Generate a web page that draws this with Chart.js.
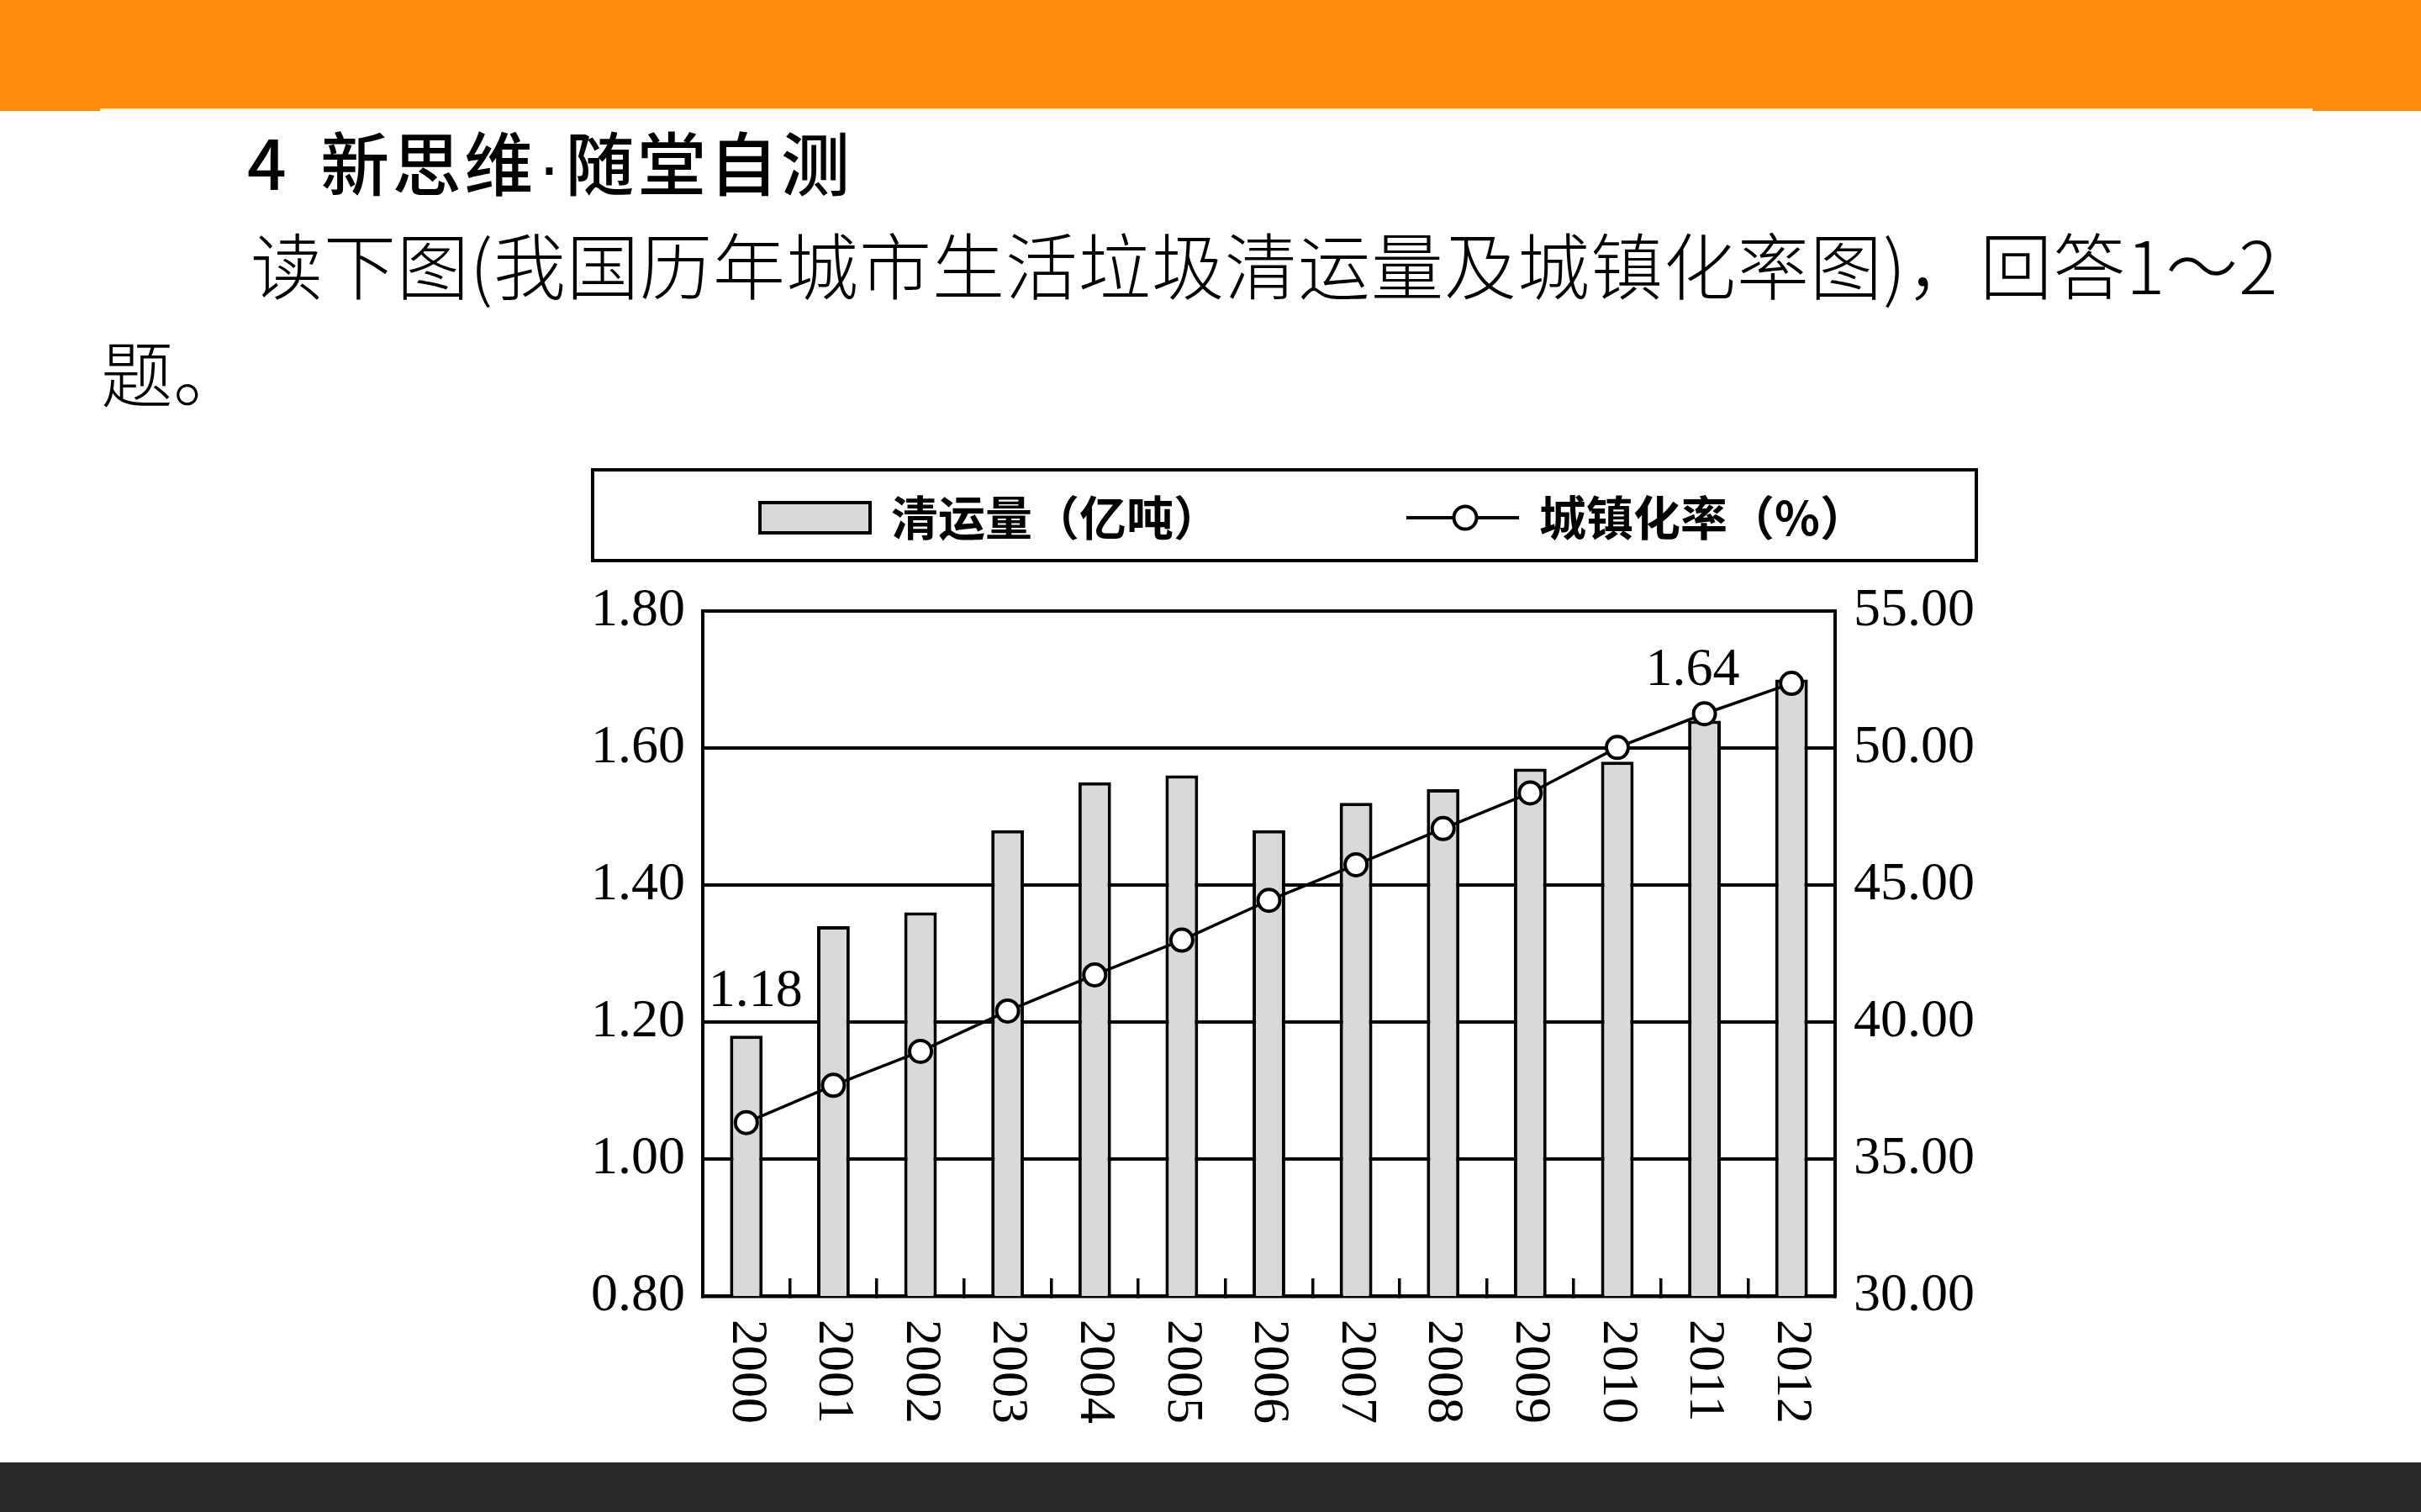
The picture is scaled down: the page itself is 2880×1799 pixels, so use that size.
<!DOCTYPE html>
<html>
<head>
<meta charset="utf-8">
<script src="https://cdn.jsdelivr.net/npm/chart.js@4.4.1/dist/chart.umd.min.js"></script>
<style>
  body { margin: 0; width: 2880px; height: 1799px; position: relative; background: #fff; overflow: hidden; font-family: "Noto Sans CJK SC", sans-serif; }
  #top { position: absolute; left: 0; top: 0; width: 2880px; height: 132px; background: #ff8a0d; }
  #topcut { position: absolute; left: 119px; top: 129px; width: 2632px; height: 4px; background: #fff; }
  #bottom { position: absolute; left: 0; top: 1740px; width: 2880px; height: 59px; background: #282828; }
  .t { position: absolute; white-space: nowrap; line-height: 1; color: #000; }
  .dot { font-family: "Liberation Sans", sans-serif; margin: 0 2px; }
  #chartBox { position: absolute; left: 700px; top: 555px; width: 1660px; height: 1160px; }
</style>
</head>
<body>
<div id="top"></div>
<div id="topcut"></div>
<div class="t" style="left:294px;top:150px;font-size:82px;font-weight:500;letter-spacing:3.5px;"><span style="margin-right:37px">4</span>新思维<span class="dot">·</span>随堂自测</div>
<div class="t" style="left:298px;top:270px;font-size:86px;font-weight:300;letter-spacing:1px;">读下图(我国历年城市生活垃圾清运量及城镇化率图)，回答1～2</div>
<div class="t" style="left:120px;top:398px;font-size:86px;font-weight:300;">题。</div>
<div id="chartBox"><canvas id="grafico" width="1660" height="1160"></canvas></div>
<div id="bottom"></div>

<script>
// datos
const years = ['2000', '2001', '2002', '2003', '2004', '2005', '2006', '2007', '2008', '2009', '2010', '2011', '2012'];
const removal = [1.18, 1.34, 1.36, 1.48, 1.55, 1.56, 1.48, 1.52, 1.54, 1.57, 1.58, 1.64, 1.70];
const urbanRate = [36.33, 37.69, 38.93, 40.40, 41.72, 42.99, 44.44, 45.74, 47.06, 48.36, 50.02, 51.25, 52.36];
const seriesNames = ['清运量（亿吨）', '城镇化率（%）'];
const leftTicks = [0.80, 1.00, 1.20, 1.40, 1.60, 1.80];
const rightTicks = [30, 35, 40, 45, 50, 55];
const labelledYears = ['2000', '2011'];

const SERIF = '"Liberation Serif", "DejaVu Serif", serif';

// leyenda con marco
const framedLegend = {
  id: 'framedLegend',
  afterDraw(chart, args, opts) {
    const ctx = chart.ctx;
    const [bx, by, bw, bh] = opts.box;
    const cy = by + bh / 2 + 3;
    ctx.save();
    ctx.strokeStyle = '#000';
    ctx.lineWidth = 4;
    ctx.strokeRect(bx, by, bw, bh);

    ctx.font = opts.font;
    ctx.textBaseline = 'middle';
    ctx.fillStyle = '#000';

    // barra
    let x = opts.items[0];
    ctx.fillStyle = '#d9d9d9';
    ctx.fillRect(x, cy - 20, 135, 40);
    ctx.lineWidth = 4;
    ctx.strokeRect(x + 2, cy - 18, 131, 36);
    ctx.fillStyle = '#000';
    ctx.fillText(chart.data.datasets[1].label, x + 158, cy);

    // linea
    x = opts.items[1];
    ctx.lineWidth = 4;
    ctx.beginPath();
    ctx.moveTo(x, cy);
    ctx.lineTo(x + 134, cy);
    ctx.stroke();
    ctx.beginPath();
    ctx.arc(x + 70, cy, 13.5, 0, Math.PI * 2);
    ctx.fillStyle = '#fff';
    ctx.fill();
    ctx.stroke();
    ctx.fillStyle = '#000';
    ctx.fillText(chart.data.datasets[0].label, x + 158, cy);
    ctx.restore();
  }
};

// etiquetas del eje x, giradas hacia abajo
const verticalYears = {
  id: 'verticalYears',
  afterDraw(chart, args, opts) {
    const ctx = chart.ctx;
    const xs = chart.scales.x;
    ctx.save();
    ctx.font = opts.font;
    ctx.fillStyle = '#000';
    ctx.textAlign = 'left';
    ctx.textBaseline = 'middle';
    chart.data.labels.forEach(function (lab, i) {
      ctx.save();
      ctx.translate(xs.getPixelForValue(i), chart.chartArea.bottom + opts.gap);
      ctx.rotate(Math.PI / 2);
      ctx.fillText(lab, 0, 0);
      ctx.restore();
    });
    ctx.restore();
  }
};

// valores sobre algunas barras
const barValues = {
  id: 'barValues',
  afterDatasetsDraw(chart, args, opts) {
    const ctx = chart.ctx;
    const meta = chart.getDatasetMeta(1);
    ctx.save();
    ctx.font = opts.font;
    ctx.fillStyle = '#000';
    ctx.textAlign = 'center';
    ctx.textBaseline = 'alphabetic';
    opts.offsets.forEach(function (o) {
      const i = chart.data.labels.indexOf(o.year);
      const bar = meta.data[i];
      ctx.fillText(removal[i].toFixed(2), bar.x + o.dx, bar.y + o.dy);
    });
    ctx.restore();
  }
};

const ctx = document.getElementById('grafico').getContext('2d');

new Chart(ctx, {
  data: {
    labels: years,
    datasets: [
      {
        type: 'line',
        label: seriesNames[1],
        data: urbanRate,
        yAxisID: 'y1',
        order: 0,
        borderColor: '#000',
        borderWidth: 3.5,
        tension: 0,
        pointRadius: 13,
        pointBorderWidth: 4,
        pointBorderColor: '#000',
        pointBackgroundColor: '#fff'
      },
      {
        type: 'bar',
        label: seriesNames[0],
        data: removal,
        yAxisID: 'y',
        order: 1,
        backgroundColor: '#d9d9d9',
        borderColor: '#000',
        borderWidth: 4,
        borderSkipped: 'start',
        categoryPercentage: 1,
        barPercentage: 0.375
      }
    ]
  },
  options: {
    responsive: false,
    animation: false,
    layout: { padding: { top: 172, left: 0, right: 0, bottom: 0 } },
    plugins: {
      legend: { display: false },
      tooltip: { enabled: false },
      framedLegend: { box: [5, 4, 1646, 108], items: [202, 973], font: '600 56px "Noto Sans CJK SC"' },
      verticalYears: { gap: 28, font: '62px ' + SERIF },
      barValues: {
        font: '64px ' + SERIF,
        offsets: [
          { year: labelledYears[0], dx: 11, dy: -35 },
          { year: labelledYears[1], dx: -14, dy: -42 }
        ]
      }
    },
    scales: {
      x: {
        ticks: { display: false },
        grid: { offset: true, drawOnChartArea: false, drawTicks: true, tickLength: -21, color: '#000', lineWidth: 3.5 },
        border: { display: true, color: '#000', width: 4.5 },
        afterFit: function (s) { s.height = 173; }
      },
      y: {
        position: 'left',
        min: leftTicks[0],
        max: leftTicks[leftTicks.length - 1],
        ticks: {
          stepSize: leftTicks[1] - leftTicks[0],
          padding: 21,
          color: '#000',
          font: { family: SERIF, size: 64 },
          callback: function (v) { return v.toFixed(2); }
        },
        grid: { color: '#000', lineWidth: 4, drawTicks: false },
        border: { display: true, color: '#000', width: 4 },
        afterFit: function (s) { s.width = 136; }
      },
      y1: {
        position: 'right',
        min: rightTicks[0],
        max: rightTicks[rightTicks.length - 1],
        ticks: {
          stepSize: rightTicks[1] - rightTicks[0],
          padding: 22,
          color: '#000',
          font: { family: SERIF, size: 64 },
          callback: function (v) { return v.toFixed(2); }
        },
        grid: { drawOnChartArea: false, drawTicks: false },
        border: { display: true, color: '#000', width: 4 },
        afterFit: function (s) { s.width = 177; }
      }
    }
  },
  plugins: [framedLegend, verticalYears, barValues]
});
</script>
</body>
</html>
